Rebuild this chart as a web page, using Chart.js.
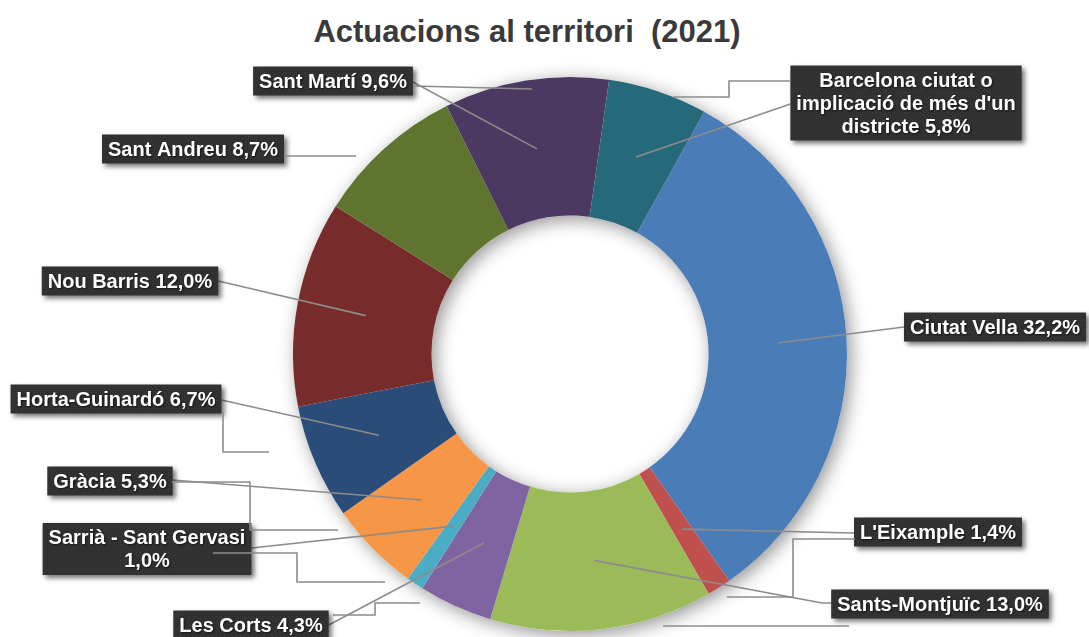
<!DOCTYPE html>
<html lang="ca">
<head>
<meta charset="UTF-8">
<title>Actuacions al territori (2021)</title>
<script src="https://cdn.jsdelivr.net/npm/chart.js"></script>
<style>
body {
  margin: 0;
  background: #ffffff;
  font-family: "Liberation Sans", Arial, sans-serif;
}
.wrap {
  position: relative;
  width: 1089px;
  height: 637px;
  overflow: hidden;
}
.title {
  position: absolute;
  left: 0;
  top: 16px;
  width: 1054px;
  text-align: center;
  font-size: 31px;
  line-height: 31px;
  font-weight: bold;
  color: #3a3a3a;
  white-space: pre;
}
canvas {
  position: absolute;
  left: 0;
  top: 0;
}
</style>
</head>
<body>
<div class="wrap">
  <div class="title">Actuacions al territori  (2021)</div>
  <canvas id="chart" width="1089" height="637"></canvas>
</div>

<script>
// Districtes (ordre del gràfic, en sentit horari) i percentatge d'actuacions 2021
const districtes = [
  "Ciutat Vella",
  "L'Eixample",
  "Sants-Montjuïc",
  "Les Corts",
  "Sarrià - Sant Gervasi",
  "Gràcia",
  "Horta-Guinardó",
  "Nou Barris",
  "Sant Andreu",
  "Sant Martí",
  "Barcelona ciutat o\nimplicació de més d'un\ndistricte"
];
const percentatges = [32.2, 1.4, 13.0, 4.3, 1.0, 5.3, 6.7, 12.0, 8.7, 9.6, 5.8];
// etiquetes on el percentatge va a una línia nova
const pctNovaLinia = [false, false, false, false, true, false, false, false, false, false, false];

const colors = [
  '#4a7cb8', '#c0504d', '#9bbb59', '#8064a2', '#4bacc6', '#f79646',
  '#2b4b78', '#772b2a', '#5e742f', '#4b3961', '#26697b'
];

// posició de les etiquetes (centre de la caixa) i d'on surt la línia guia
const etiquetaPos = [
  { cx: 995, cy: 327, side: 'l', dy: 0, stub: 0 },
  { cx: 938, cy: 532, side: 'l', dy: 1, stub: 0 },
  { cx: 940, cy: 604, side: 'l', dy: -1, stub: 9 },
  { cx: 251, cy: 625, side: 'r', dy: 0, stub: 0 },
  { cx: 147, cy: 549, side: 'r', dy: -1, stub: 0 },
  { cx: 110, cy: 481, side: 'r', dy: -1, stub: 0 },
  { cx: 116, cy: 399, side: 'r', dy: 1, stub: 0 },
  { cx: 130, cy: 281, side: 'r', dy: 0, stub: 0 },
  { cx: 193, cy: 149, side: 'r', dy: 0, stub: 0, noLeader: true },
  { cx: 333, cy: 81, side: 'r', dy: 1, stub: 0 },
  { cx: 906, cy: 103, side: 'l', dy: 1, stub: 0 }
];

// línies guia antigues que queden al gràfic original
const liniesExtra = [
  [[413, 86], [532, 89]],
  [[791, 81], [729, 81], [729, 97], [673, 97]],
  [[284, 156], [356, 156]],
  [[223, 412], [223, 452], [269, 452]],
  [[172, 482], [250, 482], [250, 530], [338, 530]],
  [[213, 553], [297, 553], [297, 582], [385, 582]],
  [[333, 615], [375, 615], [375, 603], [420, 603]],
  [[855, 539], [793, 539], [793, 597], [727, 597]],
  [[663, 626], [849, 626]]
];

const fmt = v => v.toFixed(1).replace('.', ',') + '%';
const etiquetes = districtes.map((d, i) =>
  (d + (pctNovaLinia[i] ? '\n' : ' ') + fmt(percentatges[i])).split('\n'));

// textura de punts de les caixes
function makePattern(ctx) {
  const c = document.createElement('canvas');
  c.width = 4; c.height = 4;
  const p = c.getContext('2d');
  p.fillStyle = '#303030';
  p.fillRect(0, 0, 4, 4);
  p.fillStyle = '#3d3d3d';
  p.fillRect(0, 0, 1, 1);
  p.fillRect(2, 2, 1, 1);
  return ctx.createPattern(c, 'repeat');
}

// ombra suau del donut
const ombraDonut = {
  id: 'ombraDonut',
  beforeDatasetsDraw(chart) {
    const arc = chart.getDatasetMeta(0).data[0];
    if (!arc) return;
    const ctx = chart.ctx;
    ctx.save();
    ctx.shadowColor = 'rgba(0,0,0,0.42)';
    ctx.shadowBlur = 18;
    ctx.shadowOffsetX = 4;
    ctx.shadowOffsetY = 4;
    ctx.fillStyle = '#ffffff';
    ctx.beginPath();
    ctx.arc(arc.x, arc.y, arc.outerRadius, 0, Math.PI * 2);
    ctx.arc(arc.x, arc.y, arc.innerRadius, Math.PI * 2, 0, true);
    ctx.closePath();
    ctx.fill();
    ctx.restore();
  }
};

const etiquetesPlugin = {
  id: 'etiquetes',
  afterDraw(chart) {
    const ctx = chart.ctx;
    const meta = chart.getDatasetMeta(0);
    const lh = 23;
    ctx.save();
    ctx.font = 'bold 20px "Liberation Sans", Arial, sans-serif';
    const boxes = etiquetes.map((lines, i) => {
      const pos = etiquetaPos[i];
      const w = Math.max(...lines.map(l => ctx.measureText(l).width)) + 12;
      const h = lines.length * lh + 6;
      return { x: pos.cx - w / 2, y: pos.cy - h / 2, w, h };
    });

    // línies guia cap al centre de cada sector
    ctx.strokeStyle = '#8c8c8c';
    ctx.lineWidth = 1.6;
    etiquetes.forEach((lines, i) => {
      const pos = etiquetaPos[i];
      if (pos.noLeader) return;
      const b = boxes[i];
      const p = meta.data[i].tooltipPosition();
      const sx = pos.side === 'r' ? b.x + b.w : b.x;
      const sy = pos.cy + pos.dy;
      ctx.beginPath();
      ctx.moveTo(sx, sy);
      if (pos.stub) ctx.lineTo(sx + (pos.side === 'r' ? pos.stub : -pos.stub), sy);
      ctx.lineTo(p.x, p.y);
      ctx.stroke();
    });

    // caixes
    const pat = makePattern(ctx);
    boxes.forEach(b => {
      ctx.save();
      ctx.shadowColor = 'rgba(0,0,0,0.55)';
      ctx.shadowBlur = 5;
      ctx.shadowOffsetX = 3;
      ctx.shadowOffsetY = 3;
      ctx.fillStyle = pat;
      ctx.fillRect(b.x, b.y, b.w, b.h);
      ctx.restore();
    });

    // text
    ctx.fillStyle = '#ffffff';
    ctx.textAlign = 'center';
    ctx.textBaseline = 'middle';
    etiquetes.forEach((lines, i) => {
      const pos = etiquetaPos[i];
      const y0 = pos.cy - (lines.length - 1) * lh / 2;
      lines.forEach((l, k) => {
        ctx.save();
        ctx.shadowColor = 'rgba(0,0,0,0.6)';
        ctx.shadowBlur = 2;
        ctx.shadowOffsetX = 1;
        ctx.shadowOffsetY = 1;
        ctx.fillText(l, pos.cx, y0 + k * lh + 1);
        ctx.restore();
      });
    });

    // línies extra
    ctx.strokeStyle = '#8c8c8c';
    ctx.lineWidth = 1.6;
    liniesExtra.forEach(pts => {
      ctx.beginPath();
      pts.forEach((pt, k) => k ? ctx.lineTo(pt[0], pt[1]) : ctx.moveTo(pt[0], pt[1]));
      ctx.stroke();
    });
    ctx.restore();
  }
};

new Chart(document.getElementById('chart').getContext('2d'), {
  type: 'doughnut',
  data: {
    labels: districtes.map(d => d.replace(/\n/g, ' ')),
    datasets: [{
      data: percentatges,
      backgroundColor: colors,
      borderWidth: 0
    }]
  },
  options: {
    responsive: false,
    animation: false,
    rotation: 29,
    cutout: '50%',
    layout: { padding: { left: 293, right: 242, top: 77, bottom: 6 } },
    plugins: {
      legend: { display: false },
      tooltip: { enabled: false }
    }
  },
  plugins: [ombraDonut, etiquetesPlugin]
});
</script>
</body>
</html>
